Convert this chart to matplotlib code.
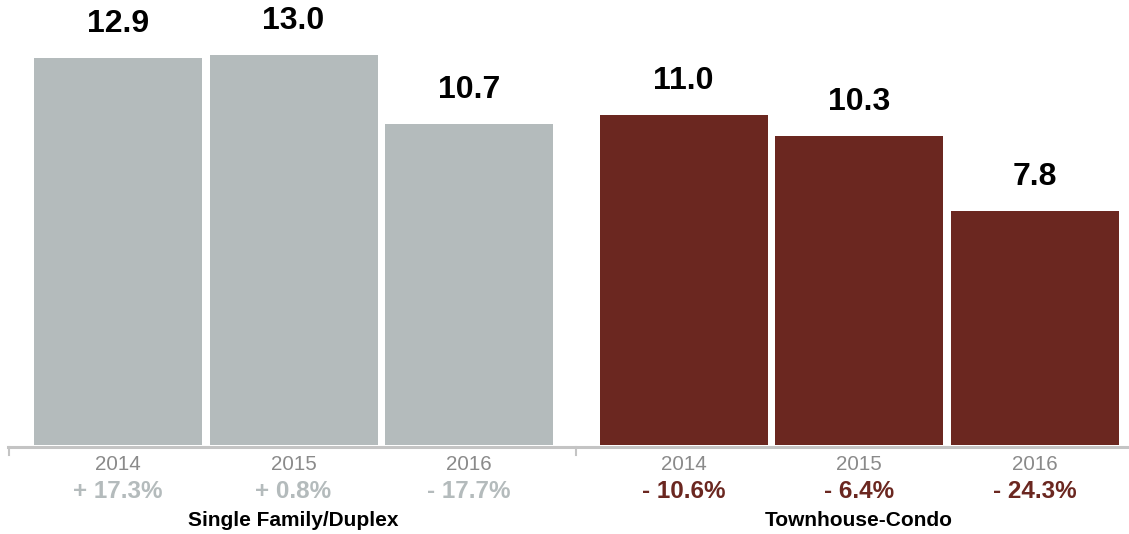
import matplotlib
matplotlib.use("Agg")
import matplotlib.pyplot as plt
from matplotlib.lines import Line2D

groups = ["Single Family/Duplex", "Townhouse-Condo"]
years = ["2014", "2015", "2016"]
sf_values = [12.9, 13.0, 10.7]
tc_values = [11.0, 10.3, 7.8]
sf_changes = ["+ 17.3%", "+ 0.8%", "- 17.7%"]
tc_changes = ["- 10.6%", "- 6.4%", "- 24.3%"]

GRAY = "#b4bbbc"
RED = "#6b2720"
FONT = "Liberation Sans"

W, H = 1129, 534
fig = plt.figure(figsize=(W / 100, H / 100), dpi=100)
base_px = 445
ax = fig.add_axes([0, (H - base_px) / H, 1, base_px / H])
px_per_unit = 175.5
x0 = 118
ax.set_xlim(-x0 / px_per_unit, (W - x0) / px_per_unit)
ymax = base_px / 30.0
ax.set_ylim(0, ymax)
ax.axis("off")

offset = (683.5 - 118) / px_per_unit
width = 168 / px_per_unit

series = [(sf_values, sf_changes, GRAY, 0.0), (tc_values, tc_changes, RED, offset)]
for vals, chg, color, off in series:
    xs = [off + i for i in range(len(vals))]
    ax.bar(xs, vals, width=width, color=color, edgecolor="none")
    for x, v in zip(xs, vals):
        ax.annotate(f"{v:.1f}", (x, v), xytext=(0, 34 * 0.72), textcoords="offset points",
                    ha="center", va="center", fontsize=23, fontweight="bold",
                    family=FONT, color="black")

def fx(px):
    return px / W

def fy(py):
    return 1 - py / H

line_color = "#c4c4c4"
fig.add_artist(Line2D([fx(8), fx(W)], [fy(447), fy(447)], color=line_color, lw=2.2,
                      transform=fig.transFigure))
for tx in [9, 576]:
    fig.add_artist(Line2D([fx(tx), fx(tx)], [fy(447), fy(455)], color=line_color, lw=1.5,
                          transform=fig.transFigure))

trans = ax.get_xaxis_transform()
for vals, chg, color, off in series:
    for i, (yr, c) in enumerate(zip(years, chg)):
        x = off + i
        ax.text(x, -(464 - base_px) / base_px, yr, transform=trans, ha="center", va="center",
                fontsize=14.8, color="#8a8a8a", family=FONT, clip_on=False)
        ax.text(x, -(492 - base_px) / base_px, c, transform=trans, ha="center", va="center",
                fontsize=17.5, fontweight="bold", color=color, family=FONT, clip_on=False)

for g, off in zip(groups, [0.0, offset]):
    ax.text(off + 1, -(520 - base_px) / base_px, g, transform=trans, ha="center", va="center",
            fontsize=15, fontweight="bold", color="black", family=FONT, clip_on=False)

fig.savefig("out.png", dpi=100)
